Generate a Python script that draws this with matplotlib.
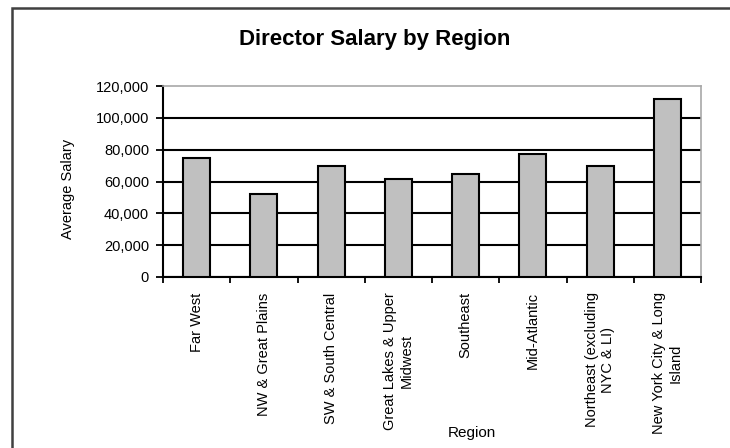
import matplotlib
matplotlib.use("Agg")
import matplotlib.pyplot as plt
from matplotlib.lines import Line2D
from matplotlib.ticker import FuncFormatter, MultipleLocator

plt.rcParams['font.family'] = ['Liberation Sans', 'DejaVu Sans']

regions = ["Far West", "NW & Great Plains", "SW & South Central",
           "Great Lakes & Upper\nMidwest", "Southeast", "Mid-Atlantic",
           "Northeast (excluding\nNYC & LI)", "New York City & Long\nIsland"]
salaries = [74500, 52000, 69700, 61500, 64500, 77000, 69500, 112000]
y_ticks = [0, 20000, 40000, 60000, 80000, 100000, 120000]

W, H = 730, 448
fig = plt.figure(figsize=(W / 100, H / 100), dpi=100)
fig.patch.set_facecolor('white')

L, R, T, B = 163, 701, 86, 277
ax = fig.add_axes([L / W, 1 - B / H, (R - L) / W, (B - T) / H])

x = list(range(len(regions)))
ax.bar(x, salaries, width=0.4, color='#c0c0c0', edgecolor='black',
       linewidth=1.5, zorder=3)

ax.set_xlim(-0.5, len(regions) - 0.5)
ax.set_ylim(y_ticks[0], y_ticks[-1])
ax.set_yticks(y_ticks)
ax.yaxis.set_major_formatter(FuncFormatter(lambda v, p: f"{int(v):,}"))

ax.set_xticks(x)
ax.set_xticklabels(regions, rotation=90, va='top', ha='center',
                   multialignment='center', fontsize=10.5)
ax.xaxis.set_minor_locator(MultipleLocator(1, offset=0.5))
ax.tick_params(axis='x', which='major', length=0, pad=11)
ax.tick_params(axis='x', which='minor', length=4, width=1.3, direction='out',
               color='black')
ax.tick_params(axis='y', which='major', length=5, width=1.3, direction='out',
               labelsize=10.5, pad=5)

ax.yaxis.grid(True, color='black', linewidth=1.5, zorder=1)
ax.get_ygridlines()[-1].set_visible(False)
ax.set_axisbelow(True)

for s in ['left', 'bottom']:
    ax.spines[s].set_color('black')
    ax.spines[s].set_linewidth(1.5)
for s in ['top', 'right']:
    ax.spines[s].set_color('#a8a8a8')
    ax.spines[s].set_linewidth(1.2)

fig.text(375 / W, 1 - 40 / H, "Director Salary by Region", ha='center',
         va='center', fontsize=16, fontweight='bold')
fig.text(68 / W, 1 - 189 / H, "Average Salary", rotation=90, ha='center',
         va='center', fontsize=10.5)
fig.text(472 / W, 1 - 433 / H, "Region", ha='center', va='center', fontsize=11)

# outer chart border (left and top visible)
fig.add_artist(Line2D([12 / W, 12 / W, 1.0], [0.0, 1 - 8 / H, 1 - 8 / H],
                      transform=fig.transFigure, color='#404040', linewidth=1.8,
                      solid_joinstyle='miter'))

fig.savefig("out.png", dpi=100)
